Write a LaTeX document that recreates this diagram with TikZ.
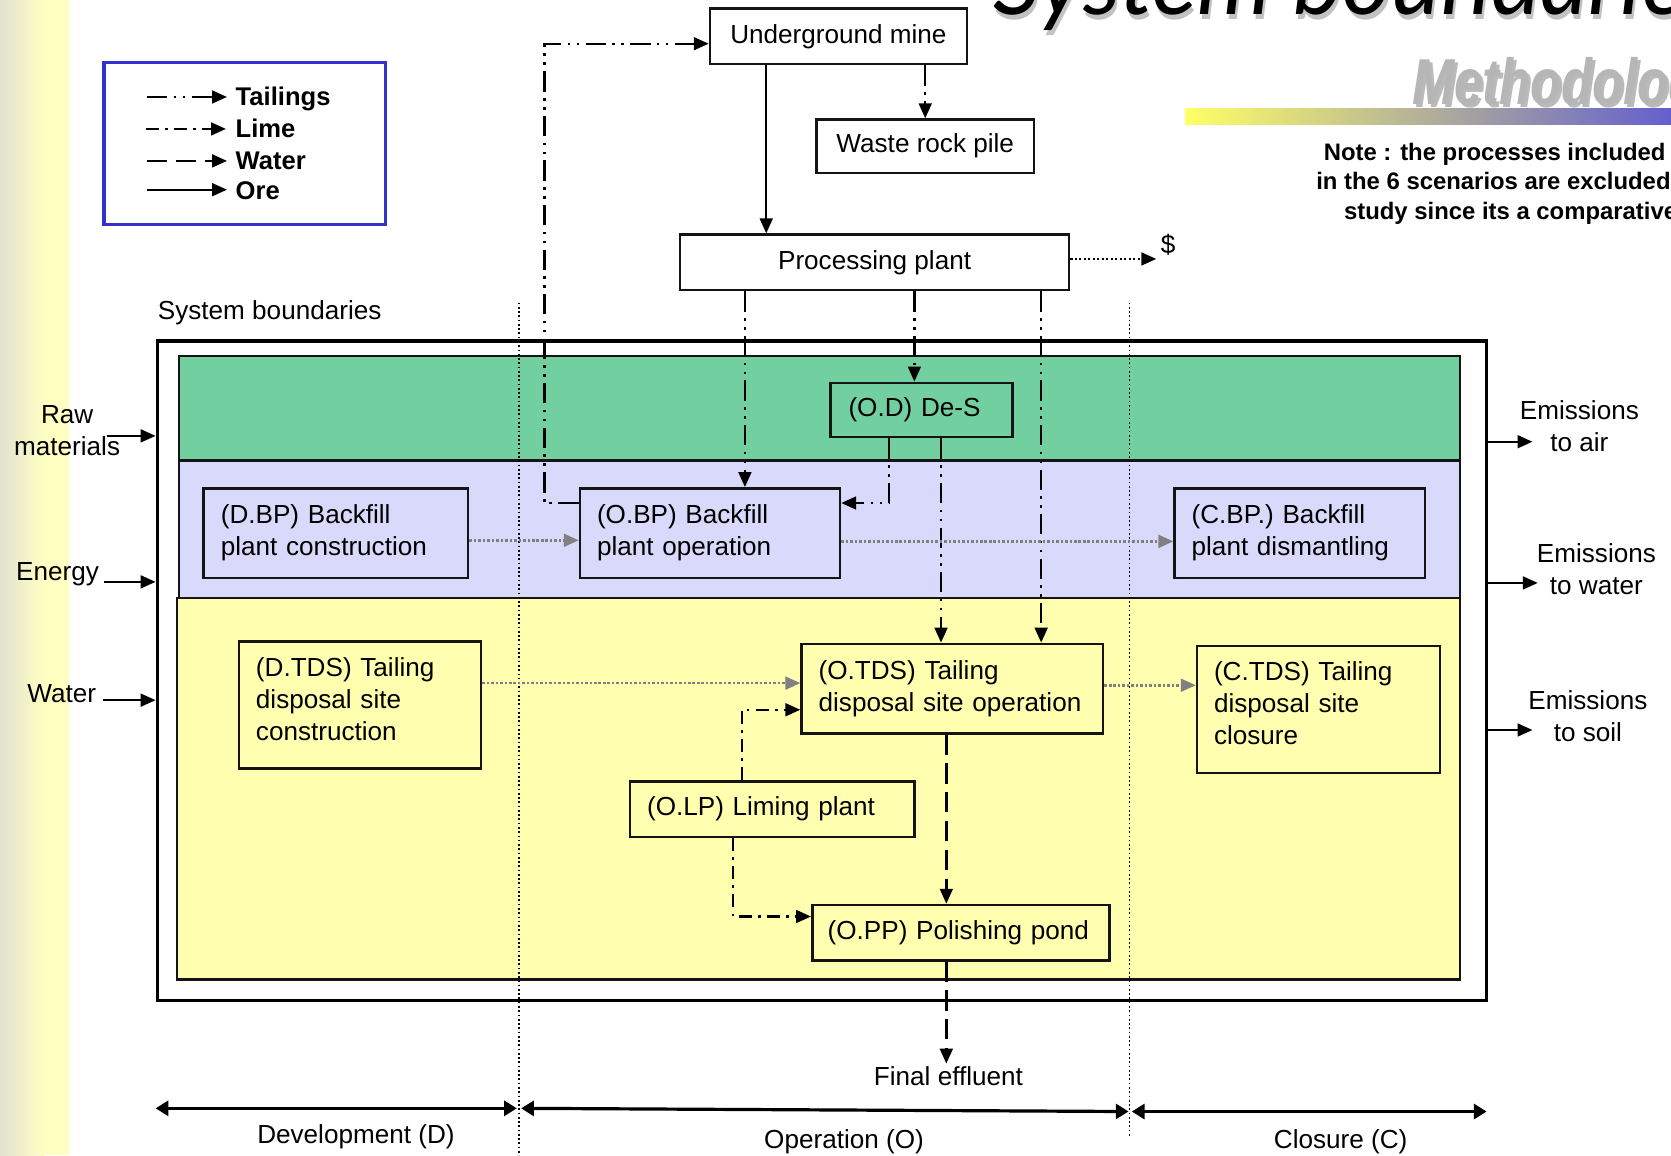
\documentclass[tikz,border=0pt]{standalone}
\usepackage{graphicx}
\usepackage{fontspec}
\setmainfont{Liberation Sans}
\newfontfamily\titlefont{Lato}
\usetikzlibrary{arrows.meta,calc}
\definecolor{bandgreen}{RGB}{114,207,160}
\definecolor{bandlav}{RGB}{217,217,251}
\definecolor{bandyel}{RGB}{255,255,175}
\definecolor{legblue}{RGB}{51,51,204}
\definecolor{edge}{RGB}{20,20,20}
\definecolor{stripgrey}{RGB}{226,226,210}
\definecolor{stripyel}{RGB}{255,255,194}
\definecolor{tipgrey}{RGB}{128,128,128}
\definecolor{methgrey}{RGB}{182,182,182}
\definecolor{baryel}{RGB}{255,255,102}
\definecolor{barmid}{RGB}{205,200,150}
\definecolor{barblue}{RGB}{100,95,205}
\begin{document}
\begin{tikzpicture}[x=1pt,y=-1pt,
  txt/.style={font=\fontsize{24.5}{29.5}\selectfont, inner sep=0pt},
  boldtxt/.style={font=\bfseries\fontsize{24}{29}\selectfont, inner sep=0pt},
  notetxt/.style={font=\bfseries\fontsize{22.4}{27}\selectfont, inner sep=0pt, anchor=base west},
  box/.style={draw=edge, line width=2.4pt, anchor=north west, inner ysep=0pt, font=\fontsize{24.5}{30}\selectfont},
  cbox/.style={box, align=center, inner xsep=0pt},
  lbox/.style={box, inner xsep=16pt, align=left},
  band/.style={draw=edge, line width=2.2pt, anchor=north west, inner sep=0pt},
  flow/.style={line width=2.2pt, -{Triangle[length=14pt,width=12pt]}},
  tail/.style={flow, dash pattern=on 19pt off 6pt on 2.4pt off 6pt on 2.4pt off 6pt},
  lime/.style={flow, dash pattern=on 12pt off 6pt on 2.4pt off 6pt},
  water/.style={flow, dash pattern=on 19pt off 8pt},
  dotflow/.style={flow, line width=2pt, dash pattern=on 2pt off 2.2pt},
  greyflow/.style={line width=2.4pt, draw=tipgrey, dash pattern=on 2.4pt off 1.8pt, -{Triangle[length=14pt,width=12pt]}},
  phase/.style={line width=1.4pt, dash pattern=on 1.6pt off 2.4pt},
  span/.style={line width=3pt, {Triangle[length=12pt,width=14pt]}-{Triangle[length=12pt,width=14pt]}},
  ]
\useasboundingbox (0,0) rectangle (1568,1084);
% left strip
\shade[left color=stripgrey, right color=stripyel] (0,0) rectangle (42,1084);
\fill[stripyel] (41.5,0) rectangle (65,1084);
% title
\node[anchor=base west, inner sep=0pt, text=black!40, opacity=0.6, font=\titlefont\itshape\fontsize{88}{92}\selectfont] at (934,18) {System boundaries};
\node[anchor=base west, inner sep=0pt, font=\titlefont\itshape\fontsize{88}{92}\selectfont] (title) at (932,14) {System boundaries};
\node[anchor=base west, inner sep=0pt, text=black!45, opacity=0.6, font=\bfseries\itshape\fontsize{61}{64}\selectfont] at (1328,101) {\scalebox{0.78}[1]{Methodology}};
\node[anchor=base west, inner sep=0pt, text=methgrey, font=\bfseries\itshape\fontsize{61}{64}\selectfont] (method) at (1325,98) {\scalebox{0.78}[1]{Methodology}};
\shade[left color=baryel, middle color=barmid, right color=barblue] (1112,102) rectangle (1568,117);
% note
\node[notetxt] (note1) at (1242,151) {Note : the processes included};
\node[notetxt] (note2) at (1235,178) {in the 6 scenarios are excluded};
\node[notetxt] (note3) at (1261,206) {study since its a comparative};
% legend
\node[draw=legblue, line width=3pt, anchor=north west, minimum width=264pt, minimum height=152pt, inner sep=0pt] (legend) at (96,57) {};
\node[boldtxt, anchor=base west] (lt1) at (221,99) {Tailings};
\node[boldtxt, anchor=base west] (lt2) at (221,129) {Lime};
\node[boldtxt, anchor=base west] (lt3) at (221,159) {Water};
\node[boldtxt, anchor=base west] (lt4) at (221,187) {Ore};
\coordinate (la1) at (138,91);  \coordinate (lb1) at (213,91);
\coordinate (la2) at (137,121); \coordinate (lb2) at (212,121);
\coordinate (la3) at (138,151); \coordinate (lb3) at (213,151);
\coordinate (la4) at (138,178); \coordinate (lb4) at (213,178);
\draw[tail] (la1) -- (lb1);
\draw[lime] (la2) -- (lb2);
\draw[water] (la3) -- (lb3);
\draw[flow] (la4) -- (lb4);
% top boxes
\node[cbox, minimum width=241pt, minimum height=52pt] (umine) at (665,7) {Underground mine};
\node[cbox, minimum width=204pt, minimum height=50pt] (waste) at (765,111) {Waste rock pile};
\node[cbox, minimum width=365pt, minimum height=52pt] (proc) at (637,219) {Processing plant};
\node[txt, anchor=base] (dollar) at (1096,238) {\$};
\node[txt, anchor=base west] (sysb) at (148,300) {System boundaries};
% system boundary and bands
\node[draw, line width=3.5pt, anchor=north west, minimum width=1247pt, minimum height=619pt, inner sep=0pt] (sys) at (146,318) {};
\node[band, fill=bandyel, minimum width=1204pt, minimum height=358pt] (yelband) at (165,560) {};
\node[band, fill=bandlav, minimum width=1202pt, minimum height=129pt] (lavband) at (167,431) {};
\node[band, fill=bandgreen, minimum width=1202pt, minimum height=98pt] (greenband) at (167,333) {};
% phase lines
\coordinate (ph1t) at (487,284); \coordinate (ph1b) at (487,1084);
\coordinate (ph2t) at (1060,284); \coordinate (ph2b) at (1060,1066);
\draw[phase] (ph1t) -- (ph1b);
\draw[phase] (ph2t) -- (ph2b);
% process boxes
\node[lbox, fill=bandgreen, inner xsep=17pt, minimum width=171pt, minimum height=51pt, text width=137pt] (des) at (778,358) {(O.D) De-S};
\node[lbox, fill=bandlav, minimum width=248pt, minimum height=84pt, text width=216pt] (dbp) at (190,457) {(D.BP) Backfill\\plant construction};
\node[lbox, fill=bandlav, minimum width=244pt, minimum height=84pt, text width=212pt] (obp) at (543,457) {(O.BP) Backfill\\plant operation};
\node[lbox, fill=bandlav, minimum width=235pt, minimum height=84pt, text width=203pt] (cbp) at (1101,457) {(C.BP.) Backfill\\plant dismantling};
\node[lbox, fill=bandyel, minimum width=227pt, minimum height=119pt, text width=195pt] (dtds) at (223,601) {(D.TDS) Tailing\\disposal site\\construction\\[-18pt]\mbox{}};
\node[lbox, fill=bandyel, minimum width=283pt, minimum height=84pt, text width=251pt] (otds) at (751,603) {(O.TDS) Tailing\\disposal site operation};
\node[lbox, fill=bandyel, minimum width=228pt, minimum height=119pt, text width=196pt] (ctds) at (1122,605) {(C.TDS) Tailing\\disposal site\\closure\\[-18pt]\mbox{}};
\node[lbox, fill=bandyel, minimum width=267pt, minimum height=52pt, text width=235pt] (olp) at (590,732) {(O.LP) Liming plant};
\node[lbox, fill=bandyel, minimum width=279pt, minimum height=52pt, text width=250pt, inner xsep=14.5pt] (opp) at (761,848) {(O.PP) Polishing pond};
\node[txt, anchor=base] (eff) at (890,1019) {Final effluent};
% coordinates for connectors
\coordinate (xore) at (719,0);
\coordinate (xa) at (699,0);
\coordinate (xb) at (858,0);
\coordinate (xc) at (977,0);
\coordinate (xd) at (834,0);
\coordinate (xe) at (883,0);
\coordinate (xf) at (696,0);
\coordinate (xh) at (688,0);
\coordinate (xk) at (888,0);
\coordinate (tl1) at (511,472);
\coordinate (tl2) at (511,41);
\coordinate (yg) at (0,666);
\coordinate (yj) at (0,860);
\coordinate (dend) at (1085,243);
% connectors
\draw[flow] (umine.south -| xore) -- (proc.north -| xore);
\draw[tail] (umine.south -| waste.north) -- (waste.north);
\draw[dotflow] (proc.east |- dend) -- (dend);
\draw[tail] (obp.west |- tl1) -- (tl1) -- (tl2) -- (umine.west |- tl2);
\draw[tail] (proc.south -| xa) -- (obp.north -| xa);
\draw[tail] (proc.south -| xb) -- (des.north -| xb);
\draw[tail] (proc.south -| xc) -- (otds.north -| xc);
\draw[tail] (des.south -| xd) |- (obp.east |- tl1);
\draw[tail] (des.south -| xe) -- (otds.north -| xe);
\draw[lime] (olp.north -| xf) |- (otds.west |- yg);
\draw[lime] (olp.south -| xh) |- (opp.west |- yj);
\draw[water] (otds.south -| xk) -- (opp.north -| xk);
\draw[water] (opp.south -| xk) -- ([yshift=3pt]eff.north -| xk);
% grey phase-to-phase arrows
\coordinate (g1) at (0,507);
\coordinate (g2) at (0,508);
\coordinate (g3) at (0,641);
\coordinate (g4) at (0,643);
\draw[greyflow] (dbp.east |- g1) -- (obp.west |- g1);
\draw[greyflow] (obp.east |- g2) -- (cbp.west |- g2);
\draw[greyflow] (dtds.east |- g3) -- (otds.west |- g3);
\draw[greyflow] (otds.east |- g4) -- (ctds.west |- g4);
% inputs
\node[txt, align=center] (raw) at (63,404) {Raw\\materials};
\node[txt, anchor=base] (energy) at (54,545) {Energy};
\node[txt, anchor=base] (waterin) at (58,659) {Water};
\coordinate (ra) at (100,409);
\coordinate (ea) at (98,546);
\coordinate (wa) at (97,657);
\draw[flow] (ra) -- (ra -| sys.west);
\draw[flow] (ea) -- (ea -| sys.west);
\draw[flow] (wa) -- (wa -| sys.west);
% outputs
\node[txt, align=center] (emair) at (1482,400) {Emissions\\to air};
\node[txt, align=center] (emwater) at (1498,534) {Emissions\\to water};
\node[txt, align=center] (emsoil) at (1490,672) {Emissions\\to soil};
\coordinate (oa) at (1438,414.5);
\coordinate (ow) at (1443,547);
\coordinate (os) at (1438,685);
\draw[flow] (sys.east |- oa) -- (oa);
\draw[flow] (sys.east |- ow) -- (ow);
\draw[flow] (sys.east |- os) -- (os);
% phases
\coordinate (pd1) at (146,1040); \coordinate (pd2) at (485,1040);
\coordinate (po1) at (489,1040); \coordinate (po2) at (1059,1043);
\coordinate (pc1) at (1062,1043); \coordinate (pc2) at (1395,1043);
\draw[span] (pd1) -- (pd2);
\draw[span] (po1) -- (po2);
\draw[span] (pc1) -- (pc2);
\node[txt, anchor=base] (devl) at (334,1073) {Development (D)};
\node[txt, anchor=base] (opl) at (792,1078) {Operation (O)};
\node[txt, anchor=base] (cll) at (1258,1078) {Closure (C)};
\end{tikzpicture}
\end{document}
